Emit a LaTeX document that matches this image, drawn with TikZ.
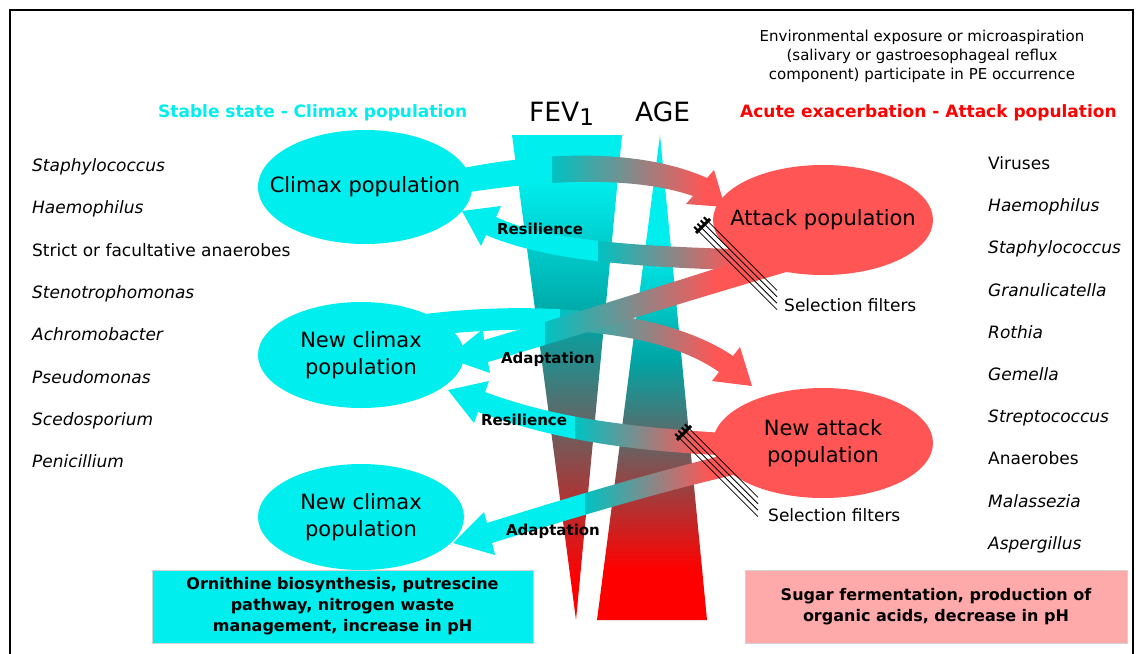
\documentclass[tikz,border=0pt]{standalone}
\usepackage{fontspec}
\setmainfont{DejaVu Sans}
\definecolor{cy}{RGB}{0,238,238}
\definecolor{tealc}{RGB}{0,165,165}
\definecolor{midgray}{RGB}{140,120,120}
\definecolor{atk}{RGB}{255,85,85}
\definecolor{pinkbox}{RGB}{255,170,170}
\newcommand\gradarrow[3]{%
  \begin{scope}
  \clip #1;
  \fill[cy] (0,0) rectangle (#2,653);
  \shade[left color=tealc!60!cy,right color=atk] (#2,0) rectangle (#3,653);
  \fill[atk] (#3,0) rectangle (1139,653);
  \end{scope}}
\newcommand\selfilter[2]{%
  \begin{scope}[shift={(#1,#2)}]
  \foreach \k in {-1.5,-0.5,0.5,1.5}{
    \draw[line width=0.8pt] ({\k*3.2},{-\k*3.2}) -- ++({74-\k*3.2},{74-\k*3.2});
    \draw[line width=2pt] ({\k*3.2},{-\k*3.2}) -- ++(-4,-4);}
  \draw[line width=3pt] (-7,7) -- (7,-7);
  \end{scope}}
\tikzset{
  lst/.style={anchor=base west,inner sep=0pt,font=\fontsize{17}{20}\selectfont},
  hdr/.style={anchor=base west,inner sep=0pt,font=\bfseries\fontsize{17}{20}\selectfont},
  lbl/.style={inner sep=0pt,font=\bfseries\fontsize{15}{18}\selectfont},
  pop/.style={inner sep=0pt,align=center,font=\fontsize{21}{27}\selectfont},
  infobox/.style={draw=gray!35,minimum height=73pt,inner sep=0pt,align=center,
    font=\bfseries\fontsize{16}{21}\selectfont}
}
\begin{document}
\begin{tikzpicture}[x=1pt,y=-1pt]
\useasboundingbox (0,0) rectangle (1139,653);
\fill[white] (0,0) rectangle (1139,653);
\draw[line width=1.2pt] (10,670) -- (10,10) -- (1133,10) -- (1133,670);

\def\fevtri{(512,135) -- (622,135) -- (576,620) -- cycle}
\def\agetri{(660,135) -- (707,620) -- (597,620) -- cycle}
\begin{scope}
\clip \fevtri;
\fill[cy] (500,130) rectangle (640,180);
\shade[top color=cy,bottom color=tealc] (500,180) rectangle (640,320);
\shade[top color=tealc,middle color=midgray,bottom color=red] (500,320) rectangle (640,580);
\fill[red] (500,580) rectangle (640,625);
\end{scope}
\begin{scope}
\clip \agetri;
\fill[cy] (590,130) rectangle (710,240);
\shade[top color=cy,bottom color=tealc] (590,240) rectangle (710,360);
\shade[top color=tealc,middle color=midgray,bottom color=red] (590,360) rectangle (710,570);
\fill[red] (590,570) rectangle (710,625);
\end{scope}

\def\climaxarrow{(440,173) .. controls (540,150) and (640,148) .. (707,178) -- (714,170) -- (725,207) -- (686,204) -- (693,196) .. controls (635,176) and (545,178) .. (440,197) -- cycle}
\def\resilarrow{(496,217) .. controls (545,240) and (630,247) .. (775,250) -- (775,271) .. controls (630,268) and (545,260) .. (486,235) -- (481,246) -- (462,211) -- (501,206) -- cycle}
\def\adaptarrow{(484,340) .. controls (560,318) and (680,280) .. (790,245) -- (800,268) .. controls (690,300) and (570,338) .. (488,362) -- (490,373) -- (447,358) -- (483,329) -- cycle}
\def\newclimaxarrow{(425,314) .. controls (540,300) and (665,310) .. (733,356) -- (740,347) -- (752,386) -- (712,381) -- (719,372) .. controls (660,330) and (545,322) .. (425,336) -- cycle}
\def\newresilarrow{(485,392) .. controls (560,420) and (640,428) .. (740,434) -- (740,456) .. controls (640,452) and (560,442) .. (478,412) -- (474,423) -- (448,390) -- (489,381) -- cycle}
\def\newadaptarrow{(487,523) .. controls (570,497) and (660,470) .. (745,450) -- (755,470) .. controls (665,490) and (580,516) .. (492,543) -- (495,555) -- (453,543) -- (484,512) -- cycle}

\gradarrow{\climaxarrow}{552}{705}
\gradarrow{\resilarrow}{598}{735}
\gradarrow{\newclimaxarrow}{560}{715}
\gradarrow{\adaptarrow}{545}{715}
\gradarrow{\newresilarrow}{575}{700}
\gradarrow{\newadaptarrow}{585}{710}

\fill[cy] (365,187) ellipse [x radius=107pt,y radius=57pt];
\fill[cy] (361,355) ellipse [x radius=103pt,y radius=53pt];
\fill[cy] (361,517) ellipse [x radius=103pt,y radius=53pt];
\fill[atk] (823,220) ellipse [x radius=110pt,y radius=55pt];
\fill[atk] (823,443) ellipse [x radius=110pt,y radius=55pt];
\node[pop] (climax) at (365,187) {Climax population};
\node[pop] (newclimax) at (361,355) {New climax\\population};
\node[pop] (lastclimax) at (361,517) {New climax\\population};
\node[pop] (attack) at (823,220) {Attack population};
\node[pop] (newattack) at (823,443) {New attack\\population};

\selfilter{703}{226}
\selfilter{684}{433}
\node[lst] (filter1) at (784,311) {Selection filters};
\node[lst] (filter2) at (768,521) {Selection filters};

\node[lbl] (res1) at (540,229) {Resilience};
\node[lbl] (adapt1) at (548,359) {Adaptation};
\node[lbl] (res2) at (524,420) {Resilience};
\node[lbl] (adapt2) at (553,531) {Adaptation};

\node[align=center,inner sep=0pt,font=\fontsize{15}{19}\selectfont] (env) at (922,56)
  {Environmental exposure or microaspiration\\(salivary or gastroesophageal reflux\\component) participate in PE occurrence};
\node[hdr,text=cy] (stable) at (158,117) {Stable state - Climax population};
\node[hdr,text=red] (acute) at (740,117) {Acute exacerbation - Attack population};
\node[anchor=base west,inner sep=0pt,font=\fontsize{26.5}{30}\selectfont] (fev) at (529,121)
  {FEV\raisebox{-4pt}{\fontsize{23}{24}\selectfont 1}};
\node[anchor=base west,inner sep=0pt,font=\fontsize{26.5}{30}\selectfont] (age) at (635,121) {AGE};

\foreach \txt [count=\i from 0] in {\textit{Staphylococcus},\textit{Haemophilus},Strict or facultative anaerobes,\textit{Stenotrophomonas},\textit{Achromobacter},\textit{Pseudomonas},\textit{Scedosporium},\textit{Penicillium}}
  \node[lst] (climaxlist\i) at (32,{171.5+42.3*\i}) {\txt};
\foreach \txt [count=\i from 0] in {Viruses,\textit{Haemophilus},\textit{Staphylococcus},\textit{Granulicatella},\textit{Rothia},\textit{Gemella},\textit{Streptococcus},Anaerobes,\textit{Malassezia},\textit{Aspergillus}}
  \node[lst] (attacklist\i) at (988,{169.5+42.2*\i}) {\txt};

\node[infobox,fill=cy,minimum width=381pt] (cbox) at (342.5,606.5)
  {Ornithine biosynthesis, putrescine\\pathway, nitrogen waste\\management, increase in pH};
\node[infobox,fill=pinkbox,minimum width=382pt] (pbox) at (936,606.5)
  {Sugar fermentation, production of\\organic acids, decrease in pH};
\end{tikzpicture}
\end{document}
